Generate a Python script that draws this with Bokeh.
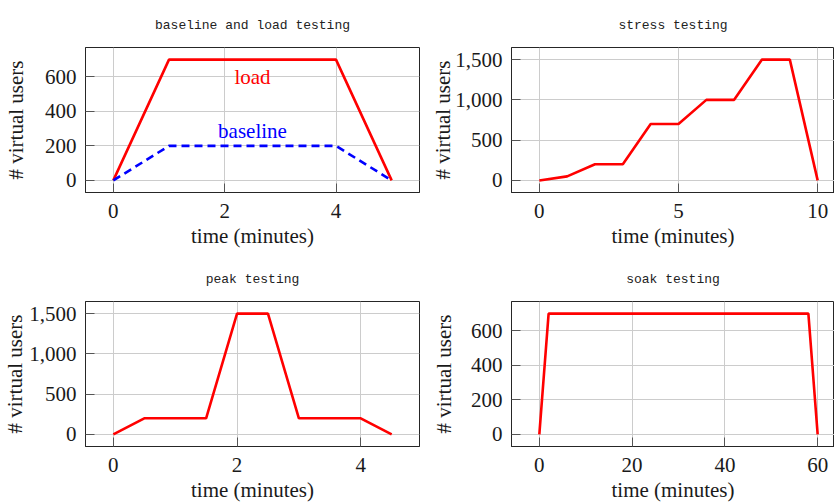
from bokeh.plotting import figure
from bokeh.layouts import column, row
from bokeh.models import FixedTicker, Range1d, NumeralTickFormatter
from bokeh.core.properties import value
from bokeh.embed import file_html
from bokeh.resources import INLINE

# ---------------- data ----------------
bl_time = [0, 1, 4, 5]
load_users = [0, 700, 700, 0]
baseline_users = [0, 200, 200, 0]

stress_time = [0, 1, 2, 3, 4, 5, 6, 7, 8, 9, 10]
stress_users = [0, 50, 200, 200, 700, 700, 1000, 1000, 1500, 1500, 0]

peak_time = [0, 0.5, 1.5, 2, 2.5, 3, 4, 4.5]
peak_users = [0, 200, 200, 1500, 1500, 200, 200, 0]

soak_time = [0, 2, 58, 60]
soak_users = [0, 700, 700, 0]

note_text = ["load", "baseline"]
note_x = [2.5, 2.5]
note_y = [597, 287]
note_color = ["#ff0000", "#0000ff"]

titles = ["baseline and load testing", "stress testing", "peak testing", "soak testing"]
xticks = [[0, 2, 4], [0, 5, 10], [0, 2, 4], [0, 20, 40, 60]]
yticks = [[0, 200, 400, 600], [0, 500, 1000, 1500], [0, 500, 1000, 1500], [0, 200, 400, 600]]

FONT = "Liberation Serif"
FS = "21px"
TXT = "#1a1a1a"
FRAME = "#262626"
TICKC = "#555555"
GRID = "#cccccc"


def panel(title, xr, yr, xt, yt, right_col, bottom_row, ylab_standoff):
    fw = 323 if right_col else 334
    p = figure(frame_width=fw, frame_height=145,
               x_range=Range1d(*xr), y_range=Range1d(*yr),
               output_backend="svg", toolbar_location=None,
               min_border_left=77, min_border_right=0 if right_col else 9,
               min_border_top=47, min_border_bottom=45 if bottom_row else 62,
               x_axis_label="time (minutes)", y_axis_label="# virtual users",
               background_fill_color="white", border_fill_color="white")
    p.outline_line_color = FRAME
    p.outline_line_width = 1

    xa = p.below[0]
    ya = p.left[0]

    for ax, ticks in ((xa, xt), (ya, yt)):
        ax.ticker = FixedTicker(ticks=ticks)
        ax.major_tick_in = 9
        ax.major_tick_out = 0
        ax.minor_tick_line_color = None
        ax.axis_line_color = FRAME
        ax.axis_line_width = 1
        ax.major_tick_line_color = TICKC
        ax.major_tick_line_width = 1
        ax.major_label_text_font = FONT
        ax.major_label_text_font_size = FS
        ax.major_label_text_color = TXT
        ax.axis_label_text_font = FONT
        ax.axis_label_text_font_size = FS
        ax.axis_label_text_font_style = "normal"
        ax.axis_label_text_color = TXT

    ya.formatter = NumeralTickFormatter(format="0,0")
    xa.major_label_standoff = 11
    xa.axis_label_standoff = 3
    ya.major_label_standoff = 9
    ya.axis_label_standoff = ylab_standoff

    p.xgrid.ticker = FixedTicker(ticks=xt)
    p.ygrid.ticker = FixedTicker(ticks=yt)
    p.xgrid.grid_line_color = GRID
    p.ygrid.grid_line_color = GRID
    p.xgrid.grid_line_width = 1
    p.ygrid.grid_line_width = 1

    p.title.text = title
    p.title.align = "center"
    p.title.vertical_align = "bottom"
    p.title.text_font = "Liberation Mono"
    p.title.text_font_size = "13px"
    p.title.text_font_style = "normal"
    p.title.text_color = "#222222"
    p.title.standoff = 29
    return p


p1 = panel(titles[0], (-0.5, 5.5), (-70, 770), xticks[0], yticks[0], False, False, 14)
p1.line(bl_time, load_users, line_color="#ff0000", line_width=2.6)
p1.line(bl_time, baseline_users, line_color="#0000ff", line_width=2.6, line_dash="8 5")
p1.text(x=note_x, y=note_y, text=note_text, text_color=note_color,
        text_font=value(FONT), text_font_size=value(FS),
        text_align="center", text_baseline="middle")

p2 = panel(titles[1], (-1, 10.605), (-150, 1650), xticks[1], yticks[1], True, False, -3)
p2.line(stress_time, stress_users, line_color="#ff0000", line_width=2.6)

p3 = panel(titles[2], (-0.45, 4.95), (-150, 1650), xticks[2], yticks[2], False, True, -1)
p3.line(peak_time, peak_users, line_color="#ff0000", line_width=2.6)

p4 = panel(titles[3], (-6, 63.63), (-70, 770), xticks[3], yticks[3], True, True, 12)
p4.line(soak_time, soak_users, line_color="#ff0000", line_width=2.6)

layout = column(row(p1, p2), row(p3, p4))

open("out.html", "w").write(file_html(layout, INLINE))
